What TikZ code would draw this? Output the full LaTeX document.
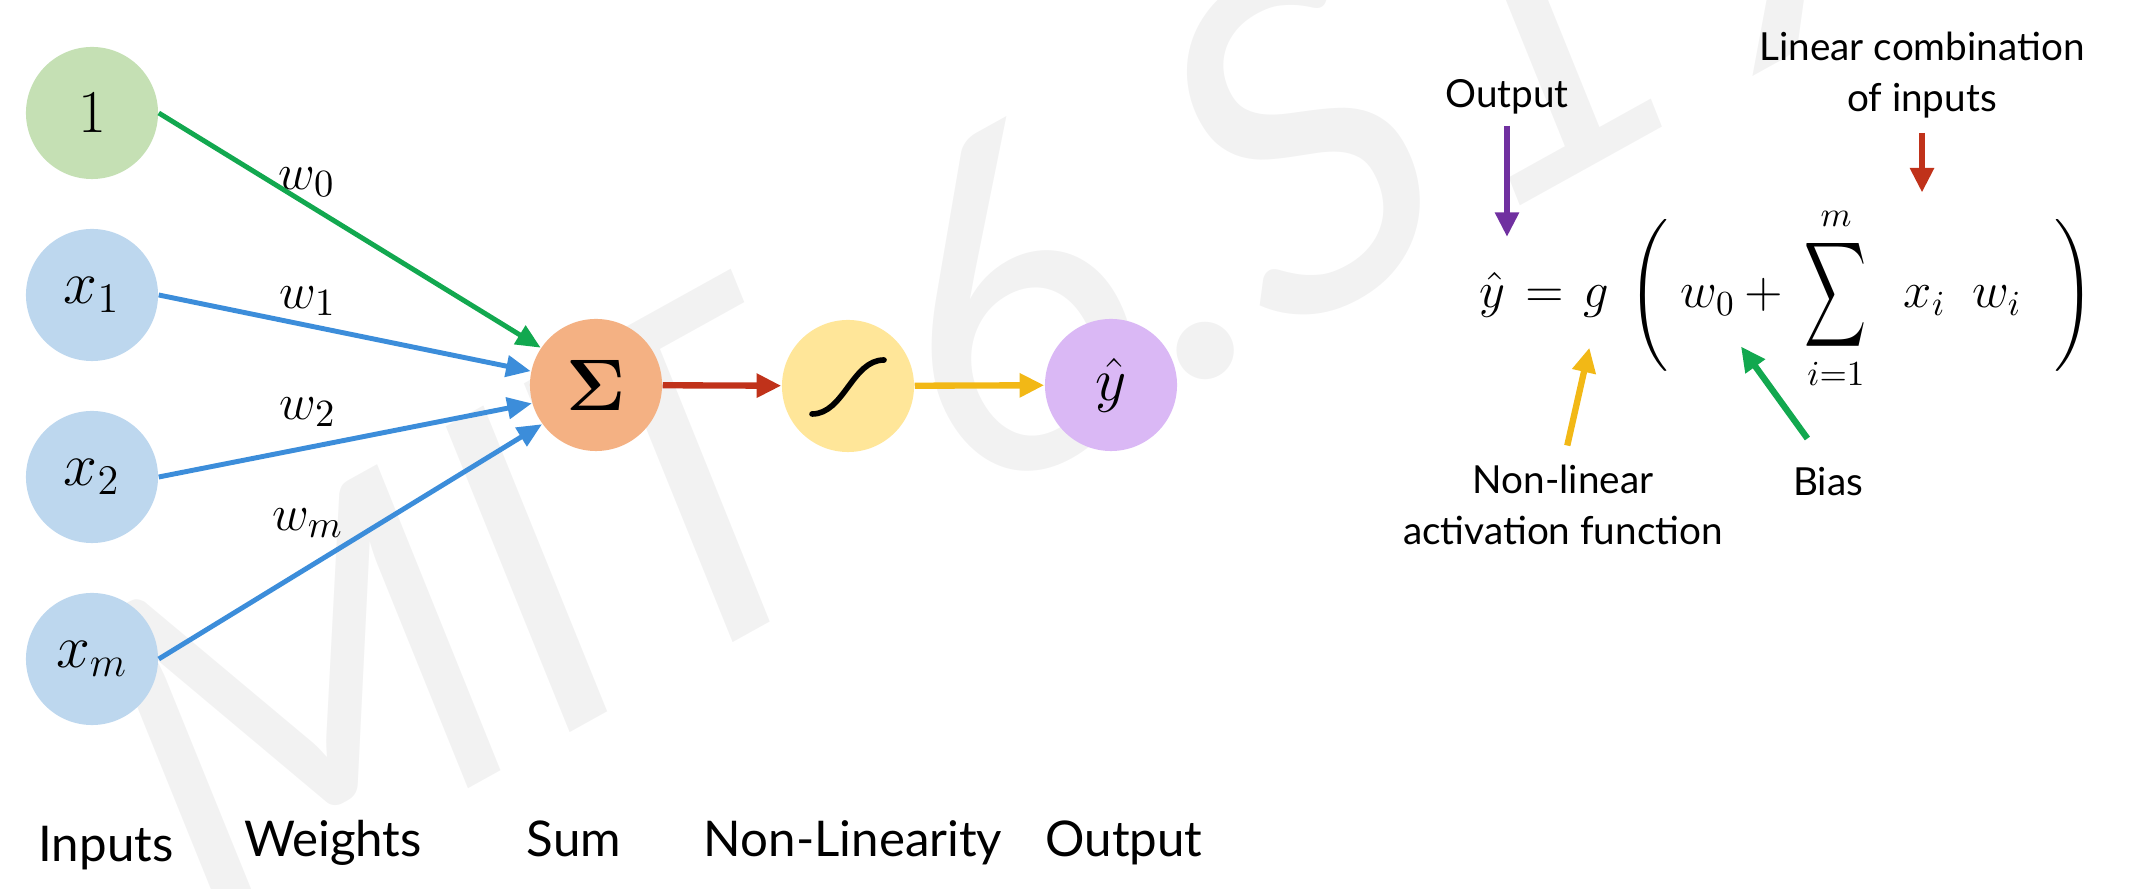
\documentclass[tikz,border=0pt]{standalone}
\usepackage{amsmath}
\usepackage{graphicx}
\usepackage{fontspec}
\setmainfont{Lato}
\usetikzlibrary{arrows.meta}

\definecolor{biasfill}{HTML}{C5E0B4}
\definecolor{inputfill}{HTML}{BDD7EE}
\definecolor{sumfill}{HTML}{F4B183}
\definecolor{actfill}{HTML}{FFE699}
\definecolor{outfill}{HTML}{DAB8F5}
\definecolor{wgreen}{HTML}{12A84F}
\definecolor{wblue}{HTML}{3C8DDA}
\definecolor{fred}{HTML}{C0321A}
\definecolor{fyellow}{HTML}{F2B816}
\definecolor{fpurple}{HTML}{7030A0}

\begin{document}
\begin{tikzpicture}[x=0.01cm, y=-0.01cm,
    neuron/.style={circle, minimum size=1.32cm, inner sep=0pt, font=\LARGE},
    wire/.style={line width=1.4pt, -{Triangle[length=7pt,width=6pt]}},
    flow/.style={line width=1.8pt, -{Triangle[length=7pt,width=6.5pt]}},
    pointer/.style={line width=1.8pt, -{Triangle[length=7pt,width=6.5pt]}},
    wlabel/.style={font=\fontsize{15}{17}\selectfont, inner sep=0pt},
    caption/.style={font=\fontsize{14}{16}\selectfont, anchor=base, inner sep=0pt},
    note/.style={font=\fontsize{11}{14.5}\selectfont, align=center, inner sep=0pt},
    term/.style={font=\Large, anchor=base, inner sep=0pt}]

    \useasboundingbox (0,0) rectangle (2133,889);

    % watermark
    \node[rotate=29, anchor=base west, text=black!5, inner sep=0pt,
        font=\fontsize{130}{130}\selectfont\itshape] (mark) at (205,935) {MIT 6.S191};

    \node[neuron, fill=biasfill] (one) at (92,113) {$1$};
    \node[neuron, fill=inputfill] (x1) at (92,295) {$x_1$};
    \node[neuron, fill=inputfill] (x2) at (92,477) {$x_2$};
    \node[neuron, fill=inputfill] (xm) at (92,659) {$x_m$};

    \node[neuron, fill=sumfill, font=\huge] (sum) at (596,385) {$\boldsymbol{\Sigma}$};
    \node[neuron, fill=actfill] (act) at (848,386) {};
    \node[neuron, fill=outfill] (out) at (1111,385) {$\hat{y}$};
    \draw[line width=1.6pt, line cap=round] ([shift={(-36,28)}]act.center) .. controls ([shift={(-4,28)}]act.center) and ([shift={(4,-26)}]act.center) .. ([shift={(36,-26)}]act.center);

    \draw[wire, draw=wgreen] (one.east) -- (sum.146);
    \draw[wire, draw=wblue] (x1.east) -- (sum.168);
    \draw[wire, draw=wblue] (x2.east) -- (sum.196);
    \draw[wire, draw=wblue] (xm.east) -- (sum.216);

    \node[wlabel] (w0) at (307,182) {$w_0$};
    \node[wlabel] (w1) at (308,301) {$w_1$};
    \node[wlabel] (w2) at (308,412) {$w_2$};
    \node[wlabel] (wm) at (308,523) {$w_m$};

    \draw[flow, draw=fred] (sum) -- (act);
    \draw[flow, draw=fyellow] (act) -- (out);

    \node[caption] (capin) at (106,862) {Inputs};
    \node[caption] (capw) at (333,857) {Weights};
    \node[caption] (capsum) at (574,857) {Sum};
    \node[caption] (capact) at (853,857) {Non-Linearity};
    \node[caption] (capout) at (1124,857) {Output};

    % formula
    \node[term] (fyhat) at (1492,308) {$\hat{y}$};
    \node[term] (feq) at (1545,308) {$=$};
    \node[term] (fg) at (1596,308) {$g$};
    \node[term] (flpar) at (1651,308) {$\left(\rule[-0.7cm]{0pt}{1.4cm}\right.$};
    \node[term] (fw0) at (1708,308) {$w_0$};
    \node[term] (fplus) at (1764,308) {$+$};
    \node[term] (fsum) at (1836,308) {$\mathop{\vcenter{\hbox{\scalebox{0.85}[1.45]{$\displaystyle\sum$}}}}\limits_{i=1}^{m}$};
    \node[term] (fxi) at (1925,308) {$x_i$};
    \node[term] (fwi) at (1997,308) {$w_i$};
    \node[term] (frpar) at (2072,308) {$\left.\rule[-0.7cm]{0pt}{1.4cm}\right)$};

    \node[note] (outlab) at (1507,97) {Output};
    \node[note] (linlab) at (1922,75) {Linear combination\\of inputs};
    \node[note] (nonlab) at (1563,505) {Non-linear\\activation function};
    \node[note] (biaslab) at (1828,482) {Bias};

    \draw[pointer, draw=fpurple, shorten <=3pt, shorten >=10pt] (outlab.south) -- (outlab.south |- fyhat.north);
    \draw[pointer, draw=fred, shorten <=4pt, shorten >=3.7pt] (linlab.south) -- (linlab.south |- fsum.north);
    \draw[pointer, draw=fyellow, shorten <=5.5pt, shorten >=8.5pt] (nonlab.north) -- (fg.south);
    \draw[pointer, draw=wgreen, shorten <=10pt, shorten >=16pt] (biaslab.north) -- (fw0.center);
\end{tikzpicture}
\end{document}
